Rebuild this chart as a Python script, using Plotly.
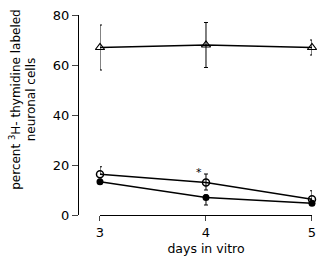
import plotly.graph_objects as go

days = [3, 4, 5]
tri_vals = [67, 68, 67]
tri_err = [9, 9, 3]
open_vals = [16.3, 13, 6.3]
open_err_up = [3, 3.4, 3.4]
open_err_dn = [0, 3, 0]
fill_vals = [13.3, 7, 4.7]
fill_err_up = [1, 1, 0.5]
fill_err_dn = [1, 3, 0.5]
y_ticks = [0, 20, 40, 60, 80]

fnt = "DejaVu Sans"
fig = go.Figure()
fig.add_trace(go.Scatter(x=days, y=tri_vals, mode="lines+markers",
    line=dict(color="black", width=1.3),
    marker=dict(symbol="triangle-up-open", size=8, color="black", line=dict(width=1.2)),
    error_y=dict(type="data", array=tri_err, color="black", thickness=1, width=2),
    cliponaxis=False))
fig.add_trace(go.Scatter(x=days, y=open_vals, mode="lines+markers",
    line=dict(color="black", width=1.3),
    marker=dict(symbol="circle-open", size=7, color="black", line=dict(width=1.5)),
    error_y=dict(type="data", array=open_err_up, arrayminus=open_err_dn, color="black", thickness=1, width=2),
    cliponaxis=False))
fig.add_trace(go.Scatter(x=days, y=fill_vals, mode="lines+markers",
    line=dict(color="black", width=1.3),
    marker=dict(symbol="circle", size=7, color="black"),
    error_y=dict(type="data", array=fill_err_up, arrayminus=fill_err_dn, color="black", thickness=1, width=2),
    cliponaxis=False))
fig.add_annotation(x=3.93, y=17, text="*", showarrow=False, font=dict(size=11, color="black", family=fnt))
fig.add_annotation(xref="paper", yref="paper", x=-0.236, y=0.58, xanchor="center", yanchor="middle",
                   textangle=-90, showarrow=False, align="center",
                   text="percent <sup>3</sup>H- thymidine labeled<br>neuronal cells",
                   font=dict(size=12, color="black", family=fnt))

fig.update_layout(
    width=325, height=257, showlegend=False,
    paper_bgcolor="white", plot_bgcolor="white",
    margin=dict(l=78, r=13, t=15, b=42, autoexpand=False),
    font=dict(family=fnt, color="black", size=13),
    xaxis=dict(domain=[0.094, 1], range=[3, 5], tickvals=days, ticks="outside", ticklen=5,
               showline=True, linecolor="black", linewidth=1, showgrid=False, zeroline=False,
               ticklabeloverflow="allow", automargin=False,
               title=dict(text="days in vitro", font=dict(size=12.5), standoff=5)),
    yaxis=dict(anchor="free", position=0, range=[0, 80], tickvals=y_ticks, ticks="outside", ticklen=6,
               showline=True, linecolor="black", linewidth=1, showgrid=False, zeroline=False,
               ticklabeloverflow="allow", automargin=False),
)
fig.write_html("out.html", config={"displayModeBar": False},
               post_script="document.body.style.margin='0';document.body.style.overflow='hidden';")
